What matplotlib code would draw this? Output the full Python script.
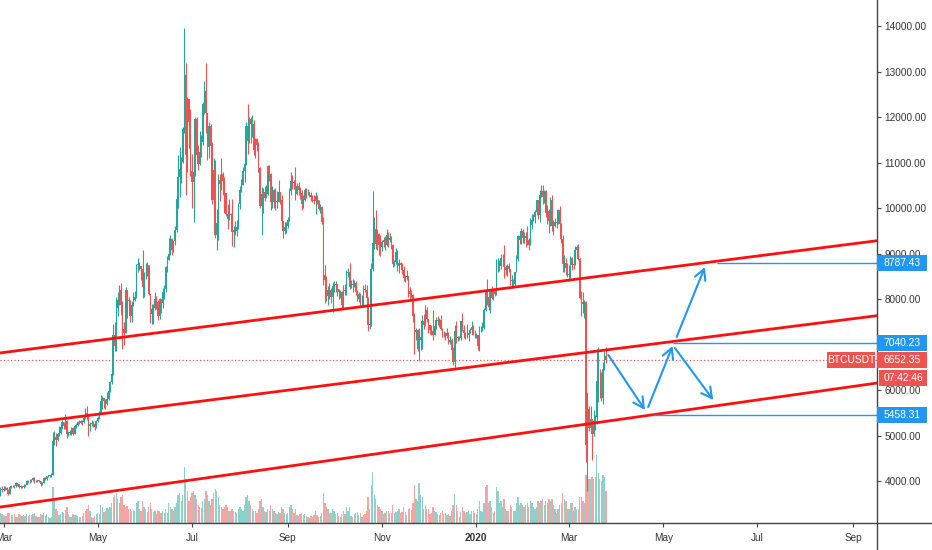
import numpy as np
import pandas as pd
import matplotlib
matplotlib.use("Agg")
import matplotlib.pyplot as plt
import matplotlib.dates as mdates
import matplotlib.transforms as mtransforms
from matplotlib.patches import Rectangle
from matplotlib.lines import Line2D

plt.rcParams["font.family"] = ["Liberation Sans", "DejaVu Sans"]

# daily BTCUSDT candles, 2019-02-27 .. 2020-03-25 (open = previous close)
START = "2019-02-27"
FIRST_OPEN = 3810.0

closes = [
    3820, 3800,
    3830, 3840, 3810, 3720, 3870, 3880, 3890, 3880, 3950, 3930, 3870, 3885, 3875, 3880, 3920, 4010,
    3990, 3990, 4030, 4060, 3990, 4000, 4010, 4000, 3930, 3960, 4060, 4040, 4110, 4110, 4120,
    4140, 4880, 4970, 4900, 5030, 5050, 5190, 5290, 5200, 5320, 5040, 5060, 5070, 5160, 5040,
    5200, 5240, 5290, 5280, 5330, 5290, 5380, 5500, 5440, 5200, 5260, 5270, 5250, 5190, 5320,
    5380, 5490, 5760, 5830, 5760, 5690, 5810, 5980, 6170, 6350, 7210, 6970, 7800, 7980, 8200,
    7870, 7350, 7260, 8190, 7990, 7950, 7630, 7880, 7990, 8050, 8740, 8780, 8720, 8660, 8270, 8550,
    8560, 8740, 8110, 7680, 7790, 7810, 8000, 7930, 7630, 8000, 7920, 8150, 8230, 8700, 8850,
    8990, 9320, 9080, 9270, 9530, 10210, 10690, 10860, 11010, 11750, 12930, 11160, 12400, 11890, 10820,
    10580, 10800, 11970, 11160, 10980, 11230, 11450, 12290, 12570, 12100, 11350, 11810, 11370, 10190, 10850,
    9420, 9680, 10630, 10530, 10760, 10590, 10330, 9880, 9770, 9880, 9850, 9480, 9530, 9500, 9590, 10090,
    10400, 10520, 10820, 10970, 11800, 11480, 11960, 11840, 11860, 11290, 11530, 11380, 10890, 10040, 10310,
    10360, 10230, 10320, 10920, 10760, 10130, 10410, 10140, 10140, 10140, 10360, 10180, 9720, 9490, 9580, 9600,
    9730, 10370, 10590, 10570, 10550, 10310, 10480, 10400, 10330, 10100, 10170, 10410, 10350, 10350, 10300,
    10240, 10180, 10160, 10260, 10170, 9980, 10030, 9700, 8530, 8430, 8060, 8190, 8200, 8040, 8290,
    8300, 8340, 8220, 8150, 8150, 7870, 8200, 8180, 8580, 8590, 8270, 8340, 8320, 8350, 8160,
    8010, 8110, 7950, 7950, 8230, 8210, 8030, 7430, 7440, 8660, 9240, 9550, 9220, 9430, 9180, 9150,
    9250, 9300, 9200, 9400, 9300, 9340, 9200, 8770, 8810, 9030, 8720, 8800, 8760, 8630, 8460,
    8490, 8500, 8170, 8120, 8080, 7620, 7280, 7320, 6900, 7110, 7160, 7520, 7420, 7760, 7560,
    7420, 7310, 7300, 7200, 7400, 7540, 7510, 7530, 7340, 7220, 7200, 7190, 7250, 7060, 7110,
    6880, 6620, 7290, 7150, 7150, 7140, 7510, 7320, 7260, 7200, 7200, 7250, 7320, 7390, 7220, 7200,
    7200, 6960, 7340, 7350, 7360, 7760, 8150, 8040, 7820, 8190, 8020, 8180, 8110, 8810, 8820,
    8720, 8900, 8910, 8700, 8630, 8730, 8660, 8390, 8430, 8330, 8600, 8890, 9390, 9290, 9500, 9350,
    9380, 9340, 9290, 9180, 9620, 9750, 9810, 9910, 10170, 9850, 10280, 10370, 10240, 10370, 9900,
    9930, 9710, 10190, 9600, 9600, 9690, 9670, 9970, 9660, 9320, 8780, 8790, 8690, 8530,
    8530, 8910, 8760, 8750, 9070, 9150, 8890, 8030, 7940, 7890, 7940, 4800, 5580, 5170, 5360,
    5030, 5330, 5410, 6190, 6200, 6190, 5820, 6470, 6740, 6652.35,
]

highs = [
    3870, 3890,
    3880, 3880, 3860, 3830, 3900, 3910, 3920, 3920, 3970, 3960, 3940, 3910, 3900, 3930, 3940, 4030,
    4020, 4040, 4050, 4080, 4080, 4020, 4030, 4020, 4010, 3980, 4080, 4080, 4120, 4130, 4140,
    4180, 5080, 5100, 5060, 5060, 5200, 5240, 5350, 5300, 5470, 5340, 5100, 5120, 5190, 5190,
    5230, 5270, 5330, 5350, 5350, 5350, 5420, 5610, 5640, 5470, 5290, 5340, 5320, 5280, 5350,
    5420, 5540, 5900, 5880, 5830, 5800, 5960, 6000, 6190, 6430, 7450, 7500, 8050, 8150, 8300,
    8360, 7950, 7500, 8270, 8100, 8050, 7980, 7950, 8160, 8170, 8770, 8900, 8820, 8730, 9080, 8600,
    8800, 8820, 8750, 8100, 7900, 7900, 8150, 8060, 7980, 8030, 8000, 8250, 8320, 8720, 8950,
    9350, 9400, 9350, 9300, 9600, 10250, 11180, 11350, 11120, 11790, 13970, 13200, 12450, 12390, 12190,
    11200, 10920, 12000, 12000, 11380, 11700, 11600, 12340, 12800, 13200, 12100, 11900, 11850, 11450, 11100,
    11050, 9980, 10750, 10750, 11100, 10800, 10680, 10330, 10100, 10200, 9900, 10200, 9600, 9720, 9750, 10120,
    10480, 10650, 10900, 11100, 11900, 12300, 12000, 12000, 12050, 11940, 11550, 11550, 11450, 10900, 10460,
    10450, 10480, 10500, 10950, 10950, 10780, 10490, 10430, 10450, 10370, 10630, 10300, 10280, 9680, 9700, 9700,
    9800, 10450, 10790, 10740, 10630, 10900, 10560, 10570, 10470, 10390, 10280, 10450, 10440, 10420, 10360,
    10350, 10300, 10280, 10350, 10290, 10090, 10100, 10050, 9800, 8740, 8500, 8290, 8350, 8250, 8380,
    8400, 8390, 8330, 8230, 8200, 8180, 8300, 8330, 8650, 8680, 8800, 8430, 8450, 8420, 8400,
    8200, 8150, 8130, 8100, 8300, 8330, 8300, 8050, 7530, 8800, 10370, 9800, 9950, 9550, 9450, 9400,
    9300, 9370, 9380, 9550, 9480, 9450, 9380, 9220, 8860, 9120, 9080, 8880, 8820, 8800, 8720,
    8540, 8650, 8500, 8260, 8200, 8120, 7700, 7370, 7350, 7370, 7340, 7650, 7670, 7870, 7830,
    7560, 7430, 7420, 7750, 7480, 7600, 7630, 7580, 7650, 7360, 7290, 7270, 7370, 7280, 7180,
    7140, 6950, 7440, 7520, 7190, 7180, 7520, 7700, 7440, 7280, 7450, 7280, 7370, 7520, 7420, 7310,
    7250, 7220, 7400, 7400, 7500, 7800, 8200, 8450, 8050, 8200, 8290, 8200, 8200, 8880, 8900,
    8850, 9000, 9000, 9200, 8750, 8780, 8800, 8670, 8520, 8440, 8600, 8980, 9400, 9420, 9570, 9550,
    9470, 9470, 9600, 9350, 9780, 9870, 9880, 9950, 10180, 10170, 10400, 10500, 10520, 10400, 10400,
    10060, 9980, 10250, 10300, 9730, 9780, 9710, 9990, 10040, 9680, 9400, 8980, 8900, 8800,
    8750, 8950, 8930, 8850, 9170, 9190, 9220, 8900, 8180, 8150, 7990, 7960, 5950, 5650, 5650,
    5370, 5560, 5460, 6900, 6950, 6460, 6400, 6620, 6850, 6950,
]

lows = [
    3680, 3760,
    3780, 3800, 3780, 3700, 3710, 3850, 3860, 3840, 3870, 3900, 3840, 3850, 3850, 3850, 3870, 3910,
    3950, 3960, 3970, 4000, 3960, 3980, 3980, 3980, 3900, 3920, 3950, 4020, 4030, 4080, 4090,
    4080, 4130, 4800, 4780, 4880, 5000, 5040, 5150, 5150, 5150, 4950, 4980, 5020, 5010, 5020,
    5030, 5160, 5220, 5250, 5260, 5230, 5270, 5370, 5350, 5000, 5100, 5200, 5190, 5120, 5170,
    5300, 5360, 5470, 5580, 5600, 5590, 5680, 5790, 5950, 6130, 6330, 6850, 6850, 7620, 7860,
    7650, 6900, 7000, 7250, 7580, 7800, 7500, 7500, 7840, 7960, 8030, 8600, 8640, 8420, 8020, 8050,
    8440, 8500, 8080, 7480, 7450, 7450, 7750, 7780, 7530, 7560, 7700, 7800, 8000, 8150, 8600,
    8980, 8980, 8960, 9030, 9200, 9470, 10000, 10250, 10550, 11000, 11650, 10300, 10800, 11330, 10700,
    10000, 9700, 10700, 11050, 10830, 10950, 11120, 11400, 12080, 11650, 11050, 11100, 10850, 10100, 9900,
    9350, 9080, 9300, 10150, 10400, 10300, 9900, 9830, 9550, 9750, 9620, 9170, 9150, 9400, 9380, 9550,
    9980, 10350, 10530, 10570, 10950, 11200, 11430, 11430, 11570, 11180, 11100, 11250, 10800, 10000, 9420,
    9900, 10150, 10250, 10300, 10600, 9950, 10000, 10000, 9950, 10000, 10250, 10100, 9600, 9340, 9430, 9450,
    9560, 9720, 10300, 10420, 10420, 10180, 10300, 10300, 10200, 9950, 10000, 10150, 10220, 10280, 10240,
    10150, 10130, 10100, 9870, 10100, 9950, 9900, 9650, 8300, 7920, 7950, 7880, 8000, 7920, 7720,
    8150, 8150, 8060, 8000, 8030, 7800, 7780, 8100, 8100, 8480, 8230, 8250, 8150, 8270, 8080,
    7950, 7940, 7870, 7870, 7850, 8150, 8000, 7300, 7350, 7400, 8620, 9100, 9100, 9080, 8970, 8950,
    9050, 9150, 9080, 9170, 9150, 9250, 9100, 8700, 8730, 8780, 8620, 8580, 8690, 8550, 8400,
    8380, 8420, 8050, 8000, 8020, 7500, 6800, 7100, 6850, 6630, 6880, 6900, 7350, 7400, 7500,
    7250, 7240, 7200, 7100, 7300, 7350, 7440, 7390, 7310, 7160, 7160, 7110, 7150, 7010, 7020,
    6860, 6560, 6440, 7030, 7080, 7110, 7100, 7300, 7150, 7120, 7150, 7080, 7250, 7300, 7200, 7150,
    7150, 6870, 6860, 7270, 7300, 7340, 7740, 7860, 7750, 7690, 8000, 7970, 8060, 8100, 8600,
    8620, 8660, 8800, 8460, 8520, 8510, 8590, 8300, 8240, 8250, 8280, 8590, 8840, 9220, 9220, 9230,
    9230, 9150, 9200, 9080, 9180, 9540, 9710, 9670, 9860, 9770, 9700, 10250, 10100, 10120, 9800,
    9650, 9450, 9600, 9500, 9400, 9590, 9570, 9660, 9520, 9240, 8600, 8600, 8520, 8490,
    8400, 8460, 8640, 8660, 8750, 8990, 8850, 8000, 7630, 7700, 7580, 4420, 3790, 5090, 5070,
    4470, 5000, 5130, 5250, 5730, 5830, 5770, 5700, 6430, 6600,
]

# volume, thousand BTC
volumes = [
    25, 22,
    20, 18, 17, 24, 25, 20, 19, 22, 16, 15, 22, 20, 18, 19, 18, 22,
    17, 21, 20, 23, 25, 18, 14, 15, 22, 20, 24, 18, 23, 15, 13,
    16, 90, 55, 35, 30, 20, 23, 28, 25, 33, 40, 22, 14, 15, 22,
    20, 20, 17, 15, 14, 18, 25, 30, 35, 45, 30, 15, 13, 18, 22,
    25, 22, 45, 40, 28, 30, 38, 35, 40, 50, 65, 70, 75, 60, 50,
    65, 70, 45, 40, 42, 35, 35, 30, 33, 30, 50, 55, 35, 30, 55, 40,
    35, 28, 40, 50, 35, 28, 30, 22, 30, 30, 25, 30, 25, 35, 25,
    50, 40, 35, 30, 40, 50, 70, 75, 55, 70, 140, 110, 80, 55, 65,
    75, 80, 70, 60, 45, 40, 38, 55, 60, 80, 70, 55, 45, 60, 75,
    85, 80, 65, 45, 40, 35, 40, 45, 40, 30, 30, 35, 30, 28, 25, 35,
    40, 35, 30, 45, 65, 70, 55, 45, 35, 30, 30, 25, 35, 55, 60,
    40, 30, 28, 35, 30, 45, 35, 30, 25, 22, 28, 25, 40, 35, 25, 22,
    25, 40, 45, 35, 25, 35, 20, 18, 22, 25, 20, 22, 18, 15, 12,
    18, 15, 20, 30, 20, 15, 18, 25, 75, 50, 40, 35, 25, 25, 35,
    30, 22, 25, 18, 15, 22, 30, 22, 40, 30, 40, 18, 15, 22, 25,
    28, 20, 25, 15, 20, 22, 30, 65, 35, 95, 128, 70, 60, 45, 40, 35,
    30, 22, 25, 30, 30, 25, 25, 45, 25, 28, 30, 35, 25, 28, 40,
    28, 20, 35, 38, 33, 50, 95, 60, 55, 100, 70, 65, 35, 45, 35,
    35, 22, 25, 40, 30, 28, 22, 20, 25, 30, 22, 25, 20, 22, 18,
    30, 45, 72, 45, 30, 15, 28, 40, 30, 25, 28, 30, 22, 30, 30, 25,
    22, 35, 55, 30, 28, 50, 90, 95, 50, 55, 40, 25, 30, 90, 80,
    50, 55, 40, 60, 35, 30, 30, 45, 40, 30, 30, 50, 65, 45, 50, 45,
    40, 45, 50, 40, 55, 50, 40, 35, 40, 55, 50, 55, 60, 45, 55,
    50, 60, 55, 60, 45, 35, 25, 35, 45, 50, 75, 60, 55, 35,
    35, 50, 50, 30, 40, 35, 35, 65, 65, 55, 50, 120, 150, 110, 110,
    115, 110, 115, 170, 125, 110, 105, 120, 115, 80,
]

# drawings: parallel channel (two anchor points per line)
channel_dates = ["2019-03-01", "2020-09-01"]
channel_top = [6826, 9217]
channel_mid = [5205, 7569]
channel_low = [3437, 6080]

# target levels and projection arrows
levels = [8787.43, 7040.23, 5458.31]
level_start = ["2020-06-04 19:00", "2020-05-07 07:00", "2020-04-24 10:00"]
arrow_x0 = ["2020-03-26 12:00", "2020-04-21 07:00", "2020-05-08 14:00", "2020-05-09 17:00"]
arrow_y0 = [6771, 5627, 6925, 7167]
arrow_x1 = ["2020-04-19 05:00", "2020-05-07 02:00", "2020-06-02 10:00", "2020-05-28 00:00"]
arrow_y1 = [5561, 6969, 5781, 8706]

tick_dates = ["2019-03-01", "2019-05-01", "2019-07-01", "2019-09-01", "2019-11-01",
              "2020-01-01", "2020-03-01", "2020-05-01", "2020-07-01", "2020-09-01"]
tick_labels = ["Mar", "May", "Jul", "Sep", "Nov", "2020", "Mar", "May", "Jul", "Sep"]
price_ticks = list(range(4000, 15000, 1000))

SYMBOL = "BTCUSDT"
COUNTDOWN = "07:42:46"

UP = "#26a69a"
DOWN = "#ef5350"
VOL_UP = "#8fd1ca"
VOL_DOWN = "#f5a5a3"
CHANNEL = "#ff1010"
BLUE = "#2196f3"
AXIS = "#444444"
TEXT = "#333333"

closes = np.array(closes, dtype=float)
highs = np.array(highs, dtype=float)
lows = np.array(lows, dtype=float)
volumes = np.array(volumes, dtype=float)
opens = np.concatenate([[FIRST_OPEN], closes[:-1]])
highs = np.maximum(highs, np.maximum(opens, closes))
lows = np.minimum(lows, np.minimum(opens, closes))

dates = pd.date_range(START, periods=len(closes), freq="D")
x = mdates.date2num(dates)
up = closes >= opens

W, H = 932, 550
fig = plt.figure(figsize=(W / 100, H / 100), dpi=100)
fig.patch.set_facecolor("white")
rect = [0, 27 / H, 877 / W, 523 / H]

vax = fig.add_axes(rect)
ax = fig.add_axes(rect, sharex=vax)
ax.patch.set_visible(False)

# volume underneath
vax.bar(x, volumes, width=0.85, color=np.where(up, VOL_UP, VOL_DOWN), linewidth=0)
vax.set_ylim(0, 1300)
vax.axis("off")

# candles
ccol = np.where(up, UP, DOWN)
ax.vlines(x, lows, highs, colors=ccol, linewidth=0.8, zorder=2)
body_lo = np.minimum(opens, closes)
body_h = np.maximum(np.abs(closes - opens), 12)
ax.bar(x, body_h, bottom=body_lo, width=0.95, color=ccol, linewidth=0, zorder=3)

base = mdates.date2num(pd.Timestamp("2019-03-01"))
ax.set_xlim(base - 2.27, base + 565.4)
ax.set_ylim(3076, 14578)

# channel lines
cx = mdates.date2num(pd.to_datetime(channel_dates))
for ys in (channel_top, channel_mid, channel_low):
    ax.axline((cx[0], ys[0]), (cx[1], ys[1]), color=CHANNEL, linewidth=2, zorder=5)

# last price line
last = closes[-1]
ax.axhline(last, color=DOWN, linewidth=0.9, linestyle=(0, (1, 1.8)), zorder=4)

# target levels
xmax = ax.get_xlim()[1]
for lv, ls in zip(levels, level_start):
    ax.hlines(lv, mdates.date2num(pd.Timestamp(ls)), xmax, color=BLUE, linewidth=1, zorder=6)

# projection arrows
for xs, ys, xe, ye in zip(arrow_x0, arrow_y0, arrow_x1, arrow_y1):
    ax.annotate("", xy=(mdates.date2num(pd.Timestamp(xe)), ye),
                xytext=(mdates.date2num(pd.Timestamp(xs)), ys),
                arrowprops=dict(arrowstyle="->,head_length=0.75,head_width=0.4",
                                color=BLUE, linewidth=1.5, shrinkA=0, shrinkB=0),
                zorder=7)

# axes styling
for s in ax.spines.values():
    s.set_visible(False)
ax.yaxis.tick_right()
ax.set_yticks(price_ticks)
ax.set_yticklabels([f"{p:.2f}" for p in price_ticks])
ax.set_xticks(mdates.date2num(pd.to_datetime(tick_dates)))
ax.set_xticklabels(tick_labels)
ax.tick_params(axis="y", length=3, width=0.8, color=AXIS, pad=2.5, labelsize=7.2, labelcolor=TEXT)
ax.tick_params(axis="x", length=3, width=0.8, color=AXIS, pad=4, labelsize=7.2, labelcolor=TEXT)
for lbl in ax.get_xticklabels():
    if lbl.get_text() == "2020":
        lbl.set_fontweight("bold")

# axis frame lines reaching into the scale area
fig.add_artist(Line2D([877 / W, 877 / W], [0, 1], color=AXIS, linewidth=1, transform=fig.transFigure))
fig.add_artist(Line2D([0, 1], [27 / H, 27 / H], color=AXIS, linewidth=1, transform=fig.transFigure))

# price-scale labels
trans = mtransforms.blended_transform_factory(fig.transFigure, ax.transData)
ppx = (ax.get_ylim()[1] - ax.get_ylim()[0]) / 523.0
box_h = 16 * ppx


def scale_label(price, text, color, x0=877, x1=927, dy=0):
    yc = price - dy * ppx
    fig.add_artist(Rectangle((x0 / W, yc - box_h / 2), (x1 - x0) / W, box_h,
                             transform=trans, facecolor=color, edgecolor="none", zorder=8))
    fig.text((x0 + x1) / 2 / W, yc, text, transform=trans, ha="center", va="center",
             color="white", fontsize=7.4, zorder=9)


for lv in levels:
    scale_label(lv, f"{lv:.2f}", BLUE)
scale_label(last, f"{last:.2f}", DOWN)
scale_label(last, SYMBOL, DOWN, x0=827, x1=875)
scale_label(last, COUNTDOWN, DOWN, x0=879, x1=927, dy=18)

fig.savefig("out.png", dpi=100, facecolor="white")
